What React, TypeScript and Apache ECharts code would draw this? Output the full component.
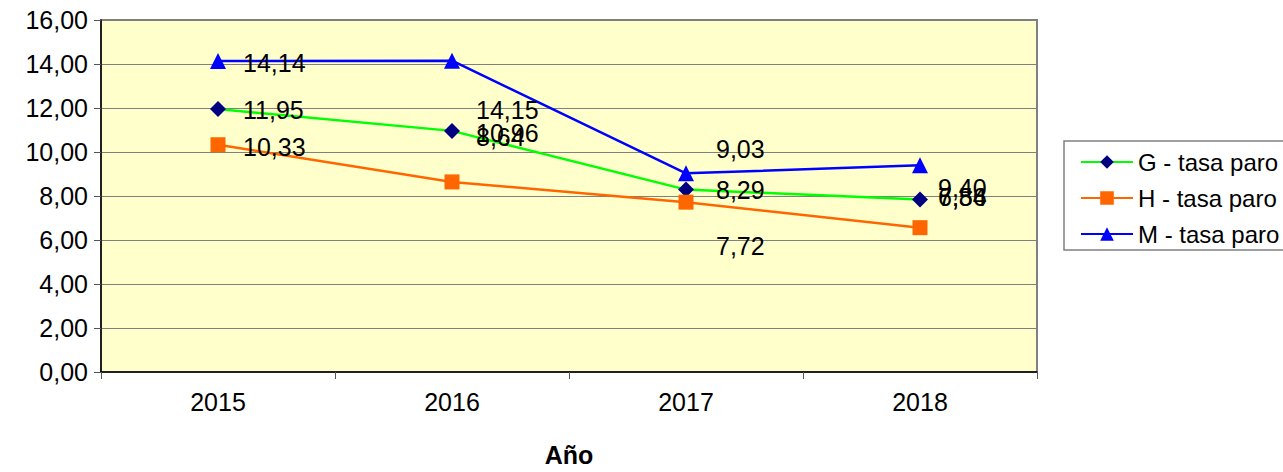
import React, { useEffect, useRef } from "react";
import * as echarts from "echarts";

const years = ["2015", "2016", "2017", "2018"];
const gValues = [11.95, 10.96, 8.29, 7.84];
const hValues = [10.33, 8.64, 7.72, 6.56];
const mValues = [14.14, 14.15, 9.03, 9.4];
const yTicks = { min: 0, max: 16, interval: 2 };
const seriesNames = ["G - tasa paro", "H - tasa paro", "M - tasa paro"];
const axisName = "Año";

// label layout (offset from marker centre, px)
const labelDx = [25, 24, 30, 18];
const gLabelDy = [1, 2, 0, -3];
const hLabelDy = [2, -45, 44, -31];
const mLabelDy = [2, 49, -24, 23];

const fmt = (v: number) => v.toFixed(2).replace(".", ",");

function buildSeries(
  name: string,
  values: number[],
  dys: number[],
  lineColor: string,
  markColor: string,
  symbol: string,
  size: number
) {
  return {
    name,
    type: "line",
    data: values.map((v, i) => ({
      value: v,
      label: { offset: [labelDx[i] - size / 2, dys[i]] },
    })),
    symbol,
    symbolSize: size,
    showAllSymbol: true,
    lineStyle: { color: lineColor, width: 2.5 },
    itemStyle: { color: markColor, borderWidth: 0 },
    label: {
      show: true,
      position: "right",
      distance: 0,
      color: "#000",
      fontSize: 25,
      fontFamily: "Arial, 'Liberation Sans', sans-serif",
      formatter: (p: any) => fmt(p.value),
    },
    emphasis: { disabled: true },
    z: 3,
  };
}

export default function App() {
  const ref = useRef<HTMLDivElement>(null);
  useEffect(() => {
    if (!ref.current) return;
    const chart = echarts.init(ref.current, undefined, { renderer: "svg" });
    const font = "Arial, 'Liberation Sans', sans-serif";
    chart.setOption({
      animation: false,
      backgroundColor: "#ffffff",
      textStyle: { fontFamily: font },
      grid: {
        left: 101,
        top: 20,
        width: 936,
        height: 356,
        show: true,
        backgroundColor: "#FFFFCC",
        borderColor: "#808080",
        borderWidth: 2,
        containLabel: false,
      },
      legend: {
        orient: "vertical",
        left: 1064,
        top: 141,
        padding: [9, 16, 4, 16],
        itemWidth: 52,
        itemHeight: 17,
        itemGap: 12,
        borderColor: "#808080",
        borderWidth: 1.5,
        backgroundColor: "#ffffff",
        textStyle: { fontSize: 24, color: "#000", fontFamily: font },
        data: seriesNames,
      },
      xAxis: {
        type: "category",
        data: years,
        boundaryGap: true,
        name: axisName,
        nameLocation: "middle",
        nameGap: 70,
        nameTextStyle: { fontSize: 25, fontWeight: "bold", color: "#000", fontFamily: font },
        axisLine: { lineStyle: { color: "#000", width: 1.5 } },
        axisTick: { show: true, length: 7, alignWithLabel: false, interval: 0, lineStyle: { color: "#555" } },
        axisLabel: { fontSize: 25, color: "#000", margin: 17, interval: 0 },
        splitLine: { show: false },
      },
      yAxis: {
        type: "value",
        min: yTicks.min,
        max: yTicks.max,
        interval: yTicks.interval,
        axisLine: { show: true, lineStyle: { color: "#000", width: 1.5 } },
        axisTick: { show: true, length: 7, lineStyle: { color: "#555" } },
        axisLabel: { fontSize: 25, color: "#000", margin: 13, formatter: (v: number) => fmt(v) },
        splitLine: { show: true, lineStyle: { color: "#808080", width: 1 } },
      },
      series: [
        buildSeries(seriesNames[0], gValues, gLabelDy, "#00FF00", "#000080", "diamond", 16),
        buildSeries(seriesNames[1], hValues, hLabelDy, "#FF6600", "#FF6600", "rect", 15),
        buildSeries(seriesNames[2], mValues, mLabelDy, "#0000FF", "#0000FF", "triangle", 16),
      ],
    });
    return () => chart.dispose();
  }, []);
  return (
    <div
      ref={ref}
      style={{ position: "fixed", left: 0, top: 0, width: 1283, height: 472 }}
    />
  );
}
